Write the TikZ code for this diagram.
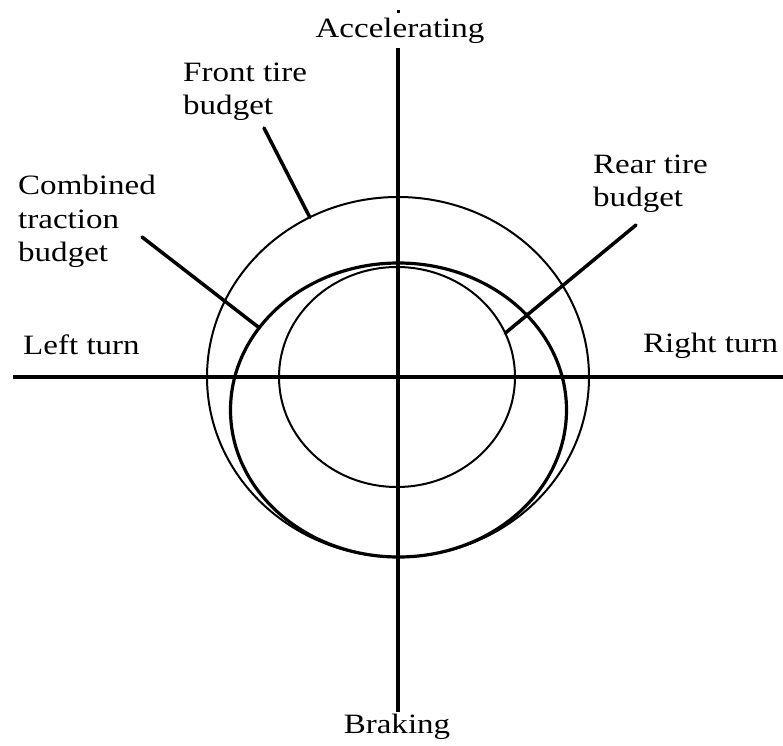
\documentclass[tikz,border=0pt]{standalone}
\usepackage{fontspec}
\setmainfont[FakeStretch=1.18]{Liberation Serif}
\begin{document}
\begin{tikzpicture}[x=1pt,y=1pt,
  axisline/.style={line width=4pt},
  thinell/.style={line width=2pt},
  thickell/.style={line width=3.2pt},
  leader/.style={line width=3.5pt, line cap=round},
  lbl/.style={inner sep=0pt, font=\fontsize{28}{33.5}\selectfont, align=left}]
\useasboundingbox (0,0) rectangle (783,745);
% budgets
\draw[thinell] (398,368) ellipse [x radius=191, y radius=180];
\draw[thinell] (397,368) ellipse [x radius=118, y radius=110];
\draw[thickell] (398.5,335) ellipse [x radius=168, y radius=147];
% axes
\coordinate (hleft) at (13,368);
\coordinate (hright) at (783,368);
\coordinate (vtop) at (398,697);
\coordinate (vbot) at (398,33);
\coordinate (vtick1) at (398,731.5);
\coordinate (vtick2) at (398,734.5);
\draw[axisline] (hleft) -- (hright);
\draw[axisline] (vtop) -- (vbot);
\draw[line width=3pt] (vtick1) -- (vtick2);
% axis labels
\node[lbl, anchor=base] (accel) at (400,707) {Accelerating};
\node[lbl, anchor=base] (brake) at (397,12) {Braking};
\node[lbl, anchor=base west] (left) at (23,391) {Left turn};
\node[lbl, anchor=base west] (right) at (643,392) {Right turn};
% budget labels (base = last line)
\node[lbl, anchor=base west] (front) at (183,630) {Front tire\\budget};
\node[lbl, anchor=base west] (comb) at (18,483) {Combined\\traction\\budget};
\node[lbl, anchor=base west] (rear) at (593,538) {Rear tire\\budget};
% leaders
\coordinate (frontstart) at (264,617);
\coordinate (frontend) at ([shift={(398,368)}]117.5:191 and 180);
\coordinate (combstart) at (142,508);
\coordinate (combend) at ([shift={(398.5,335)}]146:168 and 147);
\coordinate (rearstart) at (636,520);
\coordinate (rearend) at ([shift={(397,368)}]23.5:118 and 110);
\draw[leader] (frontstart) -- (frontend);
\draw[leader] (combstart) -- (combend);
\draw[leader] (rearstart) -- (rearend);
\end{tikzpicture}
\end{document}
